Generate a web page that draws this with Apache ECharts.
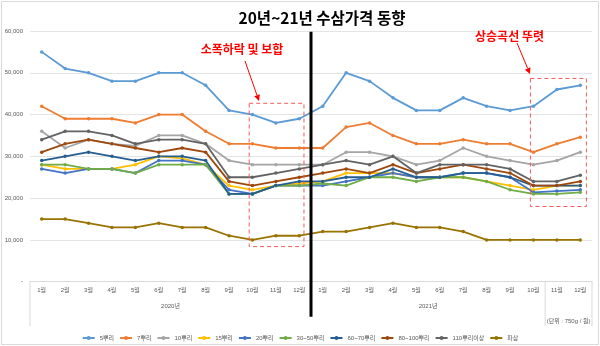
<!DOCTYPE html>
<html><head><meta charset="utf-8">
<script src="https://cdn.jsdelivr.net/npm/echarts@6/dist/echarts.min.js"></script>
<style>html,body{margin:0;padding:0;background:#fff}#c{width:600px;height:346px}</style>
</head><body><div id="c"></div>
<script>
const months = ['1월','2월','3월','4월','5월','6월','7월','8월','9월','10월','11월','12월'];
const years = ['2020년','2021년'];
const yTicks = [0,10000,20000,30000,40000,50000,60000];
const names = ['5뿌리','7뿌리','10뿌리','15뿌리','20뿌리','30~50뿌리','60~70뿌리','80~100뿌리','110뿌리이상','파삼'];
const colors = ['#5B9BD5','#ED7D31','#A5A5A5','#FFC000','#4472C4','#70AD47','#255E91','#9E480E','#636363','#997300'];
const s5    = [55,51,50,48,48,50,50,47,41,40,38,39, 42,50,48,44,41,41,44,42,41,42,46,47];
const s7    = [42,39,39,39,38,40,40,36,33,33,32,32, 32,37,38,35,33,33,34,33,33,31,33,34.6];
const s10   = [36,32,34,33,32.5,35,35,33,29,28,28,28, 28,31,31,30,28,29,32,30,29,28,29,31];
const s15   = [28,27,27,27,28,30,29.5,28,23,22,23,23.5, 24,26,26,26,25,25,25,24,23,22,23,23];
const s20   = [27,26,27,27,26,29,29,28,22,21,23,23, 23,24,25,26,25,25,26,26,25,21.4,21.7,22];
const s3050 = [28,28,27,27,26,28,28,28,21,21,23,23, 23.5,23,25,25,24,25,25,24,22,21,21,21.4];
const s6070 = [29,30,31,30,29,30,30,29,21,21,23,24, 24,25,25,27,25,25,26,26,25,23,23,23];
const s80100= [31,33,34,33,32,31,32,31,24,23,24,25, 26,27,26,28,26,27,28,27,26,23,23,24];
const s110  = [34,36,36,35,33,34,34,33,25,25,26,27, 28,29,28,30,26,28,28,28,27,24,24,25.5];
const sPa   = [15,15,14,13,13,14,13,13,11,10,11,11, 12,12,13,14,13,13,12,10,10,10,10,10];
const values = [s5,s7,s10,s15,s20,s3050,s6070,s80100,s110,sPa];
const unitText = '(단위 : 750g / 원)';
const titleText = '20년~21년 수삼가격 동향';
const note1 = '소폭하락 및 보합';
const note2 = '상승곡선 뚜렷';

const FONT = "'Liberation Sans','Noto Sans CJK KR',sans-serif";
const catKeys = [];
years.forEach(y => months.forEach(m => catKeys.push(y + '|' + m)));

const chart = echarts.init(document.getElementById('c'), null, {renderer:'canvas'});
chart.setOption({
  animation:false,
  textStyle:{fontFamily:FONT},
  grid:{left:30,right:8,top:31,bottom:64.3},
  xAxis:{type:'category',data:catKeys,boundaryGap:true,
    axisLine:{lineStyle:{color:'#D9D9D9',width:1}},axisTick:{show:false},
    axisLabel:{interval:0,formatter:v=>v.split('|')[1],fontSize:6,color:'#595959',margin:6,fontFamily:FONT}},
  yAxis:{type:'value',min:yTicks[0],max:yTicks[yTicks.length-1],interval:10000,
    axisLine:{show:false},axisTick:{show:false},
    splitLine:{lineStyle:{color:'#E4E4E4',width:1}},
    axisLabel:{fontSize:6,color:'#595959',margin:7,fontFamily:FONT,
      formatter:v=>v===0?'-':v.toLocaleString('en-US')}},
  legend:{top:330,left:'center',itemWidth:12,itemHeight:5,itemGap:5,
    textStyle:{fontSize:6,color:'#595959',fontFamily:FONT},data:names},
  series:names.map((n,i)=>({name:n,type:'line',data:values[i].map(v=>v*1000),
    symbol:'circle',symbolSize:3.5,color:colors[i],
    lineStyle:{width:1.8,color:colors[i]},itemStyle:{color:colors[i]}}))
});

const p0 = chart.convertToPixel({gridIndex:0},[0,0]);
const p1 = chart.convertToPixel({gridIndex:0},[1,0]);
const step = p1[0]-p0[0];
const axisY = p0[1];
const X = f => p0[0] + f*step;
const Y = v => chart.convertToPixel({gridIndex:0},[0,v])[1];
const gl = X(-0.5), gr = X(23.5);

function rectDash(f1,f2,v1,v2){
  return {type:'rect',shape:{x:X(f1),y:Y(v2),width:X(f2)-X(f1),height:Y(v1)-Y(v2)},
    style:{fill:null,stroke:'#F25A5A',lineWidth:1,lineDash:[4,3]},z:50};
}
function arrow(x1,y1,x2,y2){
  const a = Math.atan2(y2-y1,x2-x1), L=6, W=3;
  const bx = x2-L*Math.cos(a), by = y2-L*Math.sin(a);
  return [
    {type:'line',shape:{x1:x1,y1:y1,x2:bx,y2:by},style:{stroke:'#FF0000',lineWidth:1},z:60},
    {type:'polygon',shape:{points:[[x2,y2],[bx+W*Math.sin(a),by-W*Math.cos(a)],[bx-W*Math.sin(a),by+W*Math.cos(a)]]},style:{fill:'#FF0000'},z:60}
  ];
}
const tableBottom = axisY + 44.5;
const g = [
  {type:'rect',shape:{x:1.5,y:1.5,width:597,height:343},style:{fill:null,stroke:'#D9D9D9',lineWidth:1},z:1},
  {type:'text',x:322,y:18,style:{text:titleText,fontSize:15.5,fontWeight:'bold',fill:'#000',align:'center',verticalAlign:'middle',fontFamily:"'Noto Sans CJK KR',sans-serif"},z:60},
  // category table lines
  {type:'line',shape:{x1:gl,y1:axisY,x2:gl,y2:tableBottom},style:{stroke:'#D9D9D9',lineWidth:1},z:5},
  {type:'line',shape:{x1:X(21.5),y1:axisY,x2:X(21.5),y2:tableBottom},style:{stroke:'#D9D9D9',lineWidth:1},z:5},
  {type:'line',shape:{x1:gr,y1:axisY,x2:gr,y2:tableBottom},style:{stroke:'#D9D9D9',lineWidth:1},z:5},
  {type:'text',x:(X(-0.5)+X(11.5))/2,y:axisY+24.5,style:{text:years[0],fontSize:6,fill:'#595959',align:'center',verticalAlign:'middle',fontFamily:FONT},z:5},
  {type:'text',x:(X(11.5)+X(21.5))/2,y:axisY+24.5,style:{text:years[1],fontSize:6,fill:'#595959',align:'center',verticalAlign:'middle',fontFamily:FONT},z:5},
  {type:'text',x:(X(21.5)+X(23.5))/2,y:axisY+39.5,style:{text:unitText,fontSize:6,fill:'#595959',align:'center',verticalAlign:'middle',fontFamily:FONT},z:5},
  // year divider
  {type:'line',shape:{x1:X(11.5),y1:Y(59800),x2:X(11.5),y2:axisY+35},style:{stroke:'#000',lineWidth:3},z:55},
  rectDash(8.86,11.2,8400,42700),
  rectDash(20.87,23.26,18000,48650),
  {type:'text',x:242,y:49,style:{text:note1,fontSize:12,fontWeight:'bold',fill:'#FF0000',align:'center',verticalAlign:'middle',fontFamily:"'Noto Sans CJK KR',sans-serif"},z:60},
  {type:'text',x:509.5,y:36,style:{text:note2,fontSize:12,fontWeight:'bold',fill:'#FF0000',align:'center',verticalAlign:'middle',fontFamily:"'Noto Sans CJK KR',sans-serif"},z:60}
].concat(arrow(245,61,259,101), arrow(517,43,530,74));
chart.setOption({graphic:g});
</script></body></html>
